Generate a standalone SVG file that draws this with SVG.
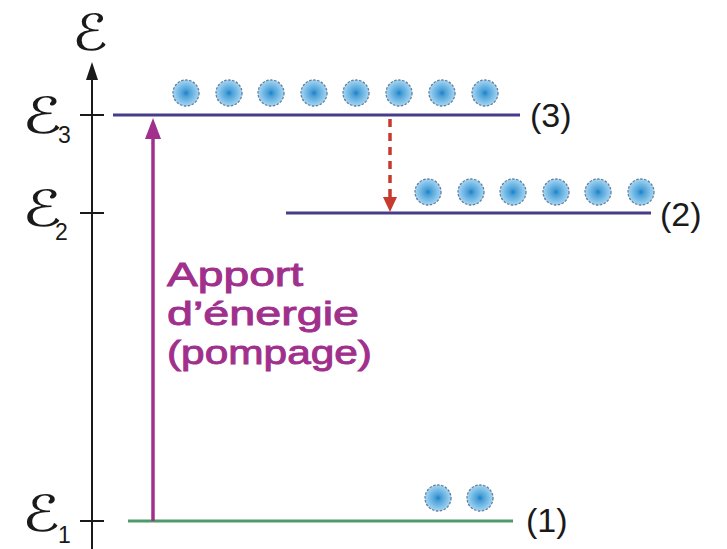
<svg xmlns="http://www.w3.org/2000/svg" width="727" height="549" viewBox="0 0 727 549">
<defs>
<radialGradient id="gb" cx="50%" cy="50%" r="50%">
<stop offset="0" stop-color="#1f7fc4"/>
<stop offset="0.25" stop-color="#4aa0d8"/>
<stop offset="1" stop-color="#a6d6f3"/>
</radialGradient>
<style>
.ax{stroke:#1a1a1a;stroke-width:2;fill:none}
.lvl{stroke:#463c8c;stroke-width:3}
.lvl1{stroke:#4f9a6a;stroke-width:3}
.e{fill:url(#gb);stroke:#5f7fa0;stroke-width:1.3;stroke-dasharray:2.5 1.5}
.sym{font-family:"DejaVu Serif","DejaVu Sans",serif;font-size:50px;fill:#1a1a1a}
.sub{font-family:"Liberation Sans",Arial,sans-serif;font-size:23px;fill:#1a1a1a}
.num{font-family:"Liberation Sans",Arial,sans-serif;font-size:34px;fill:#1a1a1a}
.lab{font-family:"Liberation Sans",Arial,sans-serif;font-size:33px;fill:#a0308c;stroke:#a0308c;stroke-width:0.9}
</style>
</defs>
<g id="axis">
<line class="ax" x1="92" y1="549" x2="92" y2="76"/>
<polygon points="92,62 86,80 98,80" fill="#1a1a1a"/>
<text class="sym" x="72" y="50" textLength="36" lengthAdjust="spacingAndGlyphs">ℰ</text>
</g>
<g id="level3">
<line class="ax" x1="80" y1="115" x2="104" y2="115"/>
<line class="lvl" x1="113" y1="115" x2="520" y2="115"/>
<text class="sym" x="22" y="133" textLength="40" lengthAdjust="spacingAndGlyphs">ℰ</text><text class="sub" x="58" y="143">3</text>
<text class="num" x="530" y="127">(3)</text>
<circle class="e" cx="186" cy="93" r="13"/>
<circle class="e" cx="229" cy="93" r="13"/>
<circle class="e" cx="271" cy="93" r="13"/>
<circle class="e" cx="314" cy="93" r="13"/>
<circle class="e" cx="356" cy="93" r="13"/>
<circle class="e" cx="399" cy="93" r="13"/>
<circle class="e" cx="442" cy="93" r="13"/>
<circle class="e" cx="485" cy="93" r="13"/>
</g>
<g id="level2">
<line class="ax" x1="80" y1="213" x2="104" y2="213"/>
<line class="lvl" x1="286" y1="213" x2="651" y2="213"/>
<text class="sym" x="22" y="226" textLength="40" lengthAdjust="spacingAndGlyphs">ℰ</text><text class="sub" x="55" y="240">2</text>
<text class="num" x="660" y="226">(2)</text>
<circle class="e" cx="428" cy="192" r="13"/>
<circle class="e" cx="471" cy="192" r="13"/>
<circle class="e" cx="513" cy="192" r="13"/>
<circle class="e" cx="556" cy="192" r="13"/>
<circle class="e" cx="598" cy="192" r="13"/>
<circle class="e" cx="641" cy="192" r="13"/>
</g>
<g id="level1">
<line class="ax" x1="80" y1="521" x2="104" y2="521"/>
<line class="lvl1" x1="128" y1="521" x2="513" y2="521"/>
<text class="sym" x="22" y="531" textLength="38" lengthAdjust="spacingAndGlyphs">ℰ</text><text class="sub" x="58" y="543">1</text>
<text class="num" x="526" y="532">(1)</text>
<circle class="e" cx="438" cy="498" r="13"/>
<circle class="e" cx="480" cy="498" r="13"/>
</g>
<g id="connectors">
<line x1="153" y1="521" x2="153" y2="134" stroke="#a0308c" stroke-width="3.5"/>
<polygon points="153,118 145,139 161,139" fill="#a0308c"/>
<line x1="390" y1="119" x2="390" y2="198" stroke="#c83a2e" stroke-width="3.5" stroke-dasharray="8 6"/>
<polygon points="390,212 383,197 397,197" fill="#c83a2e"/>
</g>
<g id="label">
<text class="lab" x="167" y="286" textLength="136" lengthAdjust="spacingAndGlyphs">Apport</text>
<text class="lab" x="167" y="325" textLength="192" lengthAdjust="spacingAndGlyphs">d’énergie</text>
<text class="lab" x="167" y="364" textLength="205" lengthAdjust="spacingAndGlyphs">(pompage)</text>
</g>
</svg>
